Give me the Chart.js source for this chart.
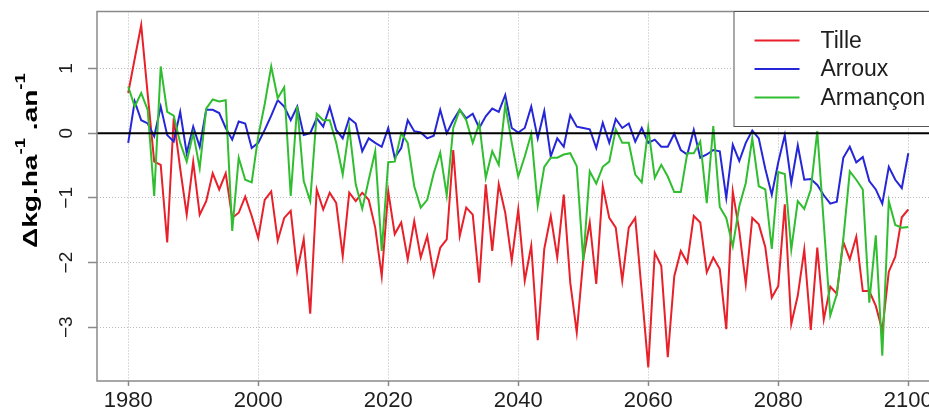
<!DOCTYPE html>
<html>
<head>
<meta charset="utf-8">
<script src="https://cdn.jsdelivr.net/npm/chart.js@4.4.1/dist/chart.umd.min.js"></script>
<style>
  html, body { margin: 0; padding: 0; background: #fff; overflow: hidden; }
  canvas { display: block; }
</style>
</head>
<body>
<canvas id="nChart" width="950" height="410"></canvas>
<script>
// annees 1980 -> 2100
const years = Array.from({ length: 121 }, (_, i) => 1980 + i);

const tille = [
  0.62, 1.15, 1.67, 0.6, -0.44, -0.49, -1.69, 0.23, -0.55, -1.26,
  -0.44, -1.26, -1.05, -0.62, -0.87, -0.62, -1.31, -1.23, -0.98, -1.28,
  -1.62, -1.03, -0.9, -1.66, -1.31, -1.2, -2.13, -1.64, -2.79, -0.87,
  -1.18, -0.92, -1.08, -1.9, -0.92, -1.05, -0.92, -1.03, -1.46, -2.21,
  -0.9, -1.56, -1.38, -1.95, -1.36, -1.92, -1.59, -2.19, -1.77, -1.64,
  -0.26, -1.59, -1.15, -1.26, -2.31, -0.79, -1.82, -0.79, -1.23, -1.97,
  -1.18, -2.28, -1.74, -3.2, -1.79, -1.28, -1.92, -0.95, -2.31, -3.08,
  -1.95, -1.38, -2.33, -0.82, -1.31, -1.46, -2.28, -1.46, -1.31, -2.46,
  -3.62, -1.85, -2.05, -3.46, -2.21, -1.82, -2.0, -1.28, -1.38, -2.15,
  -1.92, -2.1, -3.03, -0.9, -1.51, -2.33, -1.31, -1.41, -1.76, -2.54,
  -2.36, -1.1, -2.95, -2.51, -1.8, -3.04, -1.77, -2.88, -2.37, -2.48,
  -1.68, -1.95, -1.6, -2.44, -2.44, -2.67, -3.05, -2.14, -1.91, -1.3,
  -1.18
];

const arroux = [
  -0.15, 0.49, 0.2, 0.15, -0.05, 0.41, -0.03, -0.13, 0.33, -0.31,
  0.1, -0.21, 0.36, 0.36, 0.31, 0.08, -0.1, 0.18, 0.15, -0.23,
  -0.15, 0.05, 0.27, 0.51, 0.41, 0.2, 0.41, -0.03, 0.0, 0.23,
  0.1, 0.41, 0.05, -0.08, 0.23, 0.15, -0.28, -0.08, -0.15, -0.21,
  0.08, -0.38, -0.23, 0.2, 0.03, 0.01, -0.08, -0.04, 0.36, 0.0,
  0.2, 0.36, 0.23, 0.3, 0.08, 0.26, 0.38, 0.33, 0.59, 0.08,
  0.01, 0.08, 0.41, -0.08, 0.34, -0.36, -0.08, -0.21, 0.28, 0.1,
  0.08, 0.06, -0.23, 0.16, -0.15, 0.22, 0.08, 0.15, -0.13, 0.08,
  -0.15, -0.1, -0.21, -0.21, -0.01, -0.26, -0.33, 0.05, -0.38, -0.33,
  -0.26, -0.28, -1.0, -0.18, -0.43, -0.15, 0.04, -0.08, -0.55, -0.95,
  -0.45, -0.03, -0.77, -0.19, -0.72, -0.71, -0.8, -0.96, -1.09, -1.06,
  -0.38, -0.21, -0.45, -0.37, -0.74, -0.87, -1.09, -0.52, -0.72, -0.85,
  -0.31
];

const armancon = [
  0.72, 0.41, 0.62, 0.36, -0.97, 1.03, 0.33, 0.27, -0.15, -0.44,
  0.0, -0.54, 0.38, 0.52, 0.49, 0.51, -1.51, -0.38, -0.72, -0.76,
  -0.05, 0.45, 1.03, 0.54, 0.71, -0.97, 0.42, -0.74, -1.05, 0.3,
  0.2, 0.2, -0.15, -0.64, 0.08, -0.79, -1.17, -0.72, -0.28, -1.82,
  -0.45, -0.44, 0.0, -0.15, -0.82, -1.15, -1.03, -0.62, -0.3, -0.96,
  0.08, 0.36, 0.2, -0.15, 0.15, -0.69, -0.28, -0.49, 0.44, -0.15,
  -0.67, -0.36, -0.01, -1.12, -0.52, -0.38, -0.38, -0.33, -0.31, -0.51,
  -1.97, -0.59, -0.78, -0.52, -0.44, 0.06, -0.15, -0.15, -0.64, -0.76,
  0.08, -0.69, -0.49, -0.67, -0.91, -0.91, -0.31, -0.31, -0.13, -1.08,
  0.11, -1.14, -1.31, -1.75, -1.13, -0.77, -0.08, -0.82, -0.87, -1.79,
  -0.6, -0.63, -1.8, -1.05, -1.17, -0.87, 0.03, -1.4, -2.82, -2.49,
  -1.64, -0.59, -0.72, -0.87, -2.62, -1.58, -3.44, -1.05, -1.42, -1.46,
  -1.45
];

const xTicks = [1980, 2000, 2020, 2040, 2060, 2080, 2100];
const yTicks = [-3, -2, -1, 0, 1];
const yTickLabels = ['\u22123', '\u22122', '\u22121', '0', '1'];

const FONT = '"Liberation Sans", Arial, sans-serif';

function toPoints(vals) {
  return vals.map((v, i) => ({ x: years[i], y: v }));
}

// ligne h=0 + cadre du graphe
const frame = {
  id: 'frame',
  afterDatasetsDraw(chart) {
    const { ctx, chartArea: a } = chart;
    const y0 = chart.scales.y.getPixelForValue(0);
    ctx.save();
    ctx.strokeStyle = '#000';
    ctx.lineWidth = 2;
    ctx.beginPath();
    ctx.moveTo(a.left, y0);
    ctx.lineTo(a.right, y0);
    ctx.stroke();
    ctx.strokeStyle = '#8a8a8a';
    ctx.lineWidth = 1.5;
    ctx.strokeRect(a.left, a.top, a.right - a.left, a.bottom - a.top);
    ctx.restore();
  }
};

// legende en haut a droite, dans le cadre
const legendBox = {
  id: 'legendBox',
  afterDraw(chart) {
    const { ctx, chartArea: a } = chart;
    const left = a.right - 206;
    const top = a.top;
    ctx.save();
    ctx.fillStyle = '#fff';
    ctx.fillRect(left, top, a.right - left, 115);
    ctx.strokeStyle = '#555';
    ctx.lineWidth = 1;
    ctx.strokeRect(left + 0.5, top, a.right - left, 115);
    ctx.font = '23px ' + FONT;
    ctx.textBaseline = 'middle';
    chart.data.datasets.forEach((ds, i) => {
      const yy = top + 29 + i * 28.5;
      ctx.strokeStyle = ds.borderColor;
      ctx.lineWidth = 2;
      ctx.beginPath();
      ctx.moveTo(left + 21, yy);
      ctx.lineTo(left + 66, yy);
      ctx.stroke();
      ctx.fillStyle = '#1e1e1e';
      ctx.fillText(ds.label, left + 87, yy + 1);
    });
    ctx.restore();
  }
};

// titre de l'axe y avec exposants
const yTitle = {
  id: 'yTitle',
  afterDraw(chart) {
    const ctx = chart.ctx;
    const big = 'bold 21px ' + FONT;
    const small = 'bold 14px ' + FONT;
    const parts = [
      { t: '\u0394kg.ha', f: big, dy: 0 },
      { t: '-1', f: small, dy: -12 },
      { t: ' .an', f: big, dy: 0 },
      { t: '-1', f: small, dy: -12 }
    ];
    let total = 0;
    parts.forEach(p => { ctx.font = p.f; p.w = ctx.measureText(p.t).width; total += p.w; });
    ctx.save();
    ctx.translate(37, 160.5);
    ctx.rotate(-Math.PI / 2);
    ctx.scale(175 / total, 1);
    ctx.fillStyle = '#000';
    ctx.textBaseline = 'alphabetic';
    let x = -total / 2;
    parts.forEach(p => { ctx.font = p.f; ctx.fillText(p.t, x, p.dy); x += p.w; });
    ctx.restore();
  }
};

const ctx = document.getElementById('nChart').getContext('2d');
new Chart(ctx, {
  type: 'line',
  data: {
    datasets: [
      { label: 'Tille', data: toPoints(tille), borderColor: '#e8202a', order: 2 },
      { label: 'Arroux', data: toPoints(arroux), borderColor: '#2626d9', order: 1 },
      { label: 'Armançon', data: toPoints(armancon), borderColor: '#30be30', order: 0 }
    ]
  },
  options: {
    responsive: false,
    animation: false,
    events: [],
    layout: { padding: { left: 0, right: 10.5, top: 11.5, bottom: 0 } },
    elements: {
      line: { borderWidth: 2, tension: 0, fill: false },
      point: { radius: 0 }
    },
    plugins: {
      legend: { display: false },
      tooltip: { enabled: false }
    },
    scales: {
      x: {
        type: 'linear',
        min: 1975.2,
        max: 2104.8,
        afterBuildTicks: s => { s.ticks = xTicks.map(v => ({ value: v })); },
        afterFit: s => { s.height = 29; s.paddingLeft = 0; s.paddingRight = 0; },
        ticks: {
          autoSkip: false,
          maxRotation: 0,
          padding: 1.5,
          color: '#1e1e1e',
          font: { family: FONT, size: 22 },
          callback: v => String(v)
        },
        grid: { color: '#b8b8b8', lineWidth: 1, tickLength: 5, tickColor: '#8a8a8a', tickWidth: 1.5 },
        border: { display: false, dash: [1, 2] }
      },
      y: {
        type: 'linear',
        min: -3.83,
        max: 1.88,
        afterBuildTicks: s => { s.ticks = yTicks.map(v => ({ value: v })); },
        afterFit: s => { s.width = 97; s.paddingTop = 0; s.paddingBottom = 0; },
        ticks: {
          minRotation: 90,
          maxRotation: 90,
          crossAlign: 'center',
          padding: 10.5,
          color: '#1e1e1e',
          font: { family: FONT, size: 19 },
          callback: v => yTickLabels[yTicks.indexOf(v)]
        },
        grid: { color: '#b8b8b8', lineWidth: 1, tickLength: 9, tickColor: '#8a8a8a', tickWidth: 1.5 },
        border: { display: false, dash: [1, 2] }
      }
    }
  },
  plugins: [frame, legendBox, yTitle]
});
</script>
</body>
</html>
